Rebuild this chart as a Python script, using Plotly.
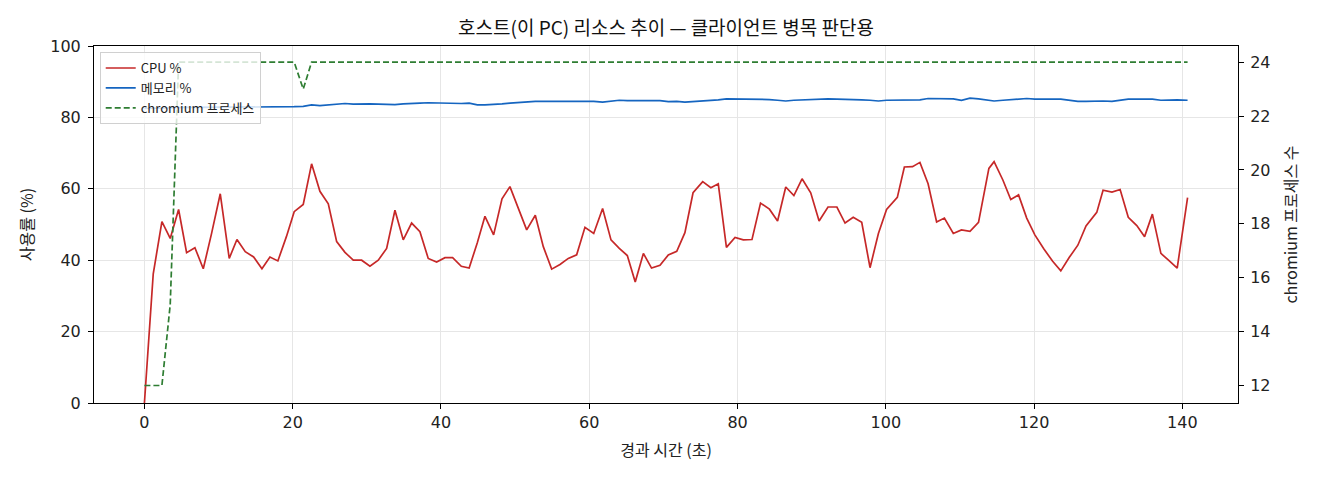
import plotly.graph_objects as go

# elapsed time (s)
t = [0.0, 1.19, 2.36, 3.48, 4.61, 5.69, 6.81, 7.94, 9.06, 10.23, 11.44, 12.48, 13.6, 14.73, 15.85,
     16.93, 18.0, 19.15, 20.2, 21.42, 22.55, 23.67, 24.8, 25.93, 27.05, 28.17, 29.3, 30.42, 31.54,
     32.67, 33.79, 34.91, 36.04, 37.16, 38.28, 39.41, 40.54, 41.57, 42.74, 43.8, 44.9, 45.93, 47.1,
     48.23, 49.3, 50.4, 51.56, 52.72, 53.8, 54.93, 56.05, 57.17, 58.3, 59.42, 60.6, 61.8, 62.93,
     64.05, 65.13, 66.2, 67.3, 68.4, 69.54, 70.66, 71.8, 72.9, 74.0, 75.3, 76.4, 77.4, 78.5, 79.66,
     80.78, 81.95, 83.1, 84.3, 85.4, 86.5, 87.6, 88.7, 89.87, 91.0, 92.2, 93.4, 94.5, 95.6, 96.75,
     97.87, 99.0, 100.1, 101.55, 102.5, 103.6, 104.6, 105.7, 106.85, 107.9, 109.1, 110.2, 111.35,
     112.5, 113.9, 114.6, 115.8, 116.85, 117.9, 119.0, 120.1, 121.3, 122.5, 123.6, 124.75, 125.9,
     127.0, 128.45, 129.3, 130.5, 131.6, 132.7, 133.85, 134.9, 135.95, 137.1, 138.2, 139.3, 140.7]

cpu = [0.0, 36.2, 50.8, 46.1, 54.2, 42.1, 43.5, 37.6, 47.5, 58.6, 40.5, 45.8, 42.4, 40.9, 37.6,
       40.9, 39.8, 46.6, 53.6, 55.6, 67.0, 59.3, 55.8, 45.2, 42.2, 40.0, 40.0, 38.3, 40.0,
       43.3, 54.0, 45.7, 50.4, 48.0, 40.5, 39.5, 40.7, 40.7, 38.3, 37.8, 44.9, 52.3, 47.1,
       57.2, 60.6, 54.5, 48.5, 52.6, 43.8, 37.5, 38.8, 40.5, 41.5, 49.2, 47.5, 54.5, 45.7,
       43.3, 41.3, 33.9, 41.9, 37.8, 38.6, 41.5, 42.5, 47.7, 58.9, 62.0, 60.3, 61.4, 43.6, 46.4,
       45.7, 45.8, 56.0, 54.3, 51.0, 60.5, 58.1, 62.8, 58.9, 51.0, 54.9, 54.9, 50.4, 52.0, 50.6,
       37.9, 47.5, 54.2, 57.6, 66.1, 66.2, 67.4, 61.4, 50.7, 51.8, 47.5, 48.5, 48.1,
       50.6, 65.7, 67.6, 62.4, 57.0, 58.3, 51.8, 47.1, 43.2, 39.7, 37.0, 40.8, 44.2,
       49.6, 53.4, 59.6, 59.1, 59.8, 52.0, 49.7, 46.6, 52.9, 41.9, 39.9, 37.8, 57.5]

mem = [82.5, 82.6, 82.7, 82.7, 82.8, 82.8, 82.8, 82.8, 82.9, 82.9, 82.8, 82.9, 82.9, 82.9, 82.8,
       82.9, 82.8, 82.9, 83.0, 83.1, 83.5, 83.3, 83.5, 83.8, 83.9, 83.7, 83.8, 83.8, 83.7,
       83.6, 83.6, 83.8, 83.8, 84.0, 84.1, 84.0, 84.1, 84.0, 83.9, 84.0, 83.5, 83.5, 83.6,
       83.8, 84.0, 84.2, 84.4, 84.5, 84.5, 84.5, 84.4, 84.6, 84.4, 84.5, 84.5, 84.3, 84.6,
       84.8, 84.7, 84.7, 84.7, 84.6, 84.7, 84.4, 84.5, 84.3, 84.4, 84.6, 84.8, 84.9, 85.2, 85.2,
       85.1, 85.2, 85.1, 85.0, 84.8, 84.6, 84.8, 84.9, 85.0, 85.2, 85.2, 85.1, 85.1, 85.0, 84.9,
       84.8, 84.6, 84.8, 84.9, 84.8, 85.0, 84.9, 85.3, 85.2, 85.2, 85.2, 84.8, 85.4,
       85.2, 84.9, 84.6, 84.8, 85.0, 85.1, 85.3, 85.1, 85.0, 85.1, 85.1, 84.8, 84.5,
       84.5, 84.6, 84.6, 84.5, 84.9, 85.1, 85.1, 85.1, 85.1, 84.8, 84.9, 84.9, 84.8]

chromium = [12, 12, 12, 15] + [24] * 15 + [23] + [24] * (len(t) - 20)

x_ticks = [0, 20, 40, 60, 80, 100, 120, 140]
left_ticks = [0, 20, 40, 60, 80, 100]
right_ticks = [12, 14, 16, 18, 20, 22, 24]

FONT = "DejaVu Sans, Noto Sans CJK KR, sans-serif"
KFONT = "Noto Sans CJK KR, sans-serif"

fig = go.Figure()
fig.add_trace(go.Scatter(x=t, y=cpu, mode="lines", name="CPU %",
                         line=dict(color="#c62828", width=1.7)))
fig.add_trace(go.Scatter(x=t, y=mem, mode="lines", name="메모리 %",
                         line=dict(color="#1565c0", width=1.7)))
fig.add_trace(go.Scatter(x=t, y=chromium, mode="lines", name="chromium 프로세스",
                         line=dict(color="#2e7d32", width=1.7, dash="6px,3px"), yaxis="y2"))

axis_common = dict(showline=True, linecolor="black", linewidth=1, ticks="outside",
                   ticklen=5, tickcolor="black",
                   tickfont=dict(size=16, color="#222", family=FONT),
                   zeroline=False)

fig.update_layout(
    width=1312, height=472,
    margin=dict(l=86, r=82, t=38, b=77),
    paper_bgcolor="white", plot_bgcolor="white",
    font=dict(family=KFONT, color="#222"),
    title=dict(text="호스트(이 PC) 리소스 추이 — 클라이언트 병목 판단용",
               xref="paper", x=0.5, xanchor="center", y=1 - 20 / 472, yanchor="middle",
               font=dict(size=19, color="#111", family=KFONT)),
    xaxis=dict(range=[-6.8, 147.5], tickvals=x_ticks, mirror=True,
               showgrid=True, gridcolor="#e6e6e6", gridwidth=1,
               title=dict(text="경과 시간 (초)", font=dict(size=16, family=KFONT), standoff=13),
               **axis_common),
    yaxis=dict(range=[0, 100], tickvals=left_ticks, showgrid=True,
               gridcolor="#e6e6e6", gridwidth=1, ticklabelstandoff=4,
               title=dict(text="사용률 (%)", font=dict(size=16, family=KFONT), standoff=12),
               **axis_common),
    yaxis2=dict(range=[11.35, 24.6], tickvals=right_ticks, overlaying="y", side="right",
                showgrid=False, ticklabelstandoff=3,
                title=dict(text="chromium 프로세스 수", font=dict(size=16, family=KFONT), standoff=16),
                **axis_common),
    legend=dict(x=0.005, y=0.983, xanchor="left", yanchor="top",
                bgcolor="rgba(255,255,255,0.8)", bordercolor="#d0d0d0", borderwidth=1,
                font=dict(size=13, color="#222", family=KFONT), itemwidth=30, tracegroupgap=2),
    showlegend=True,
)

fig.write_html("out.html")
